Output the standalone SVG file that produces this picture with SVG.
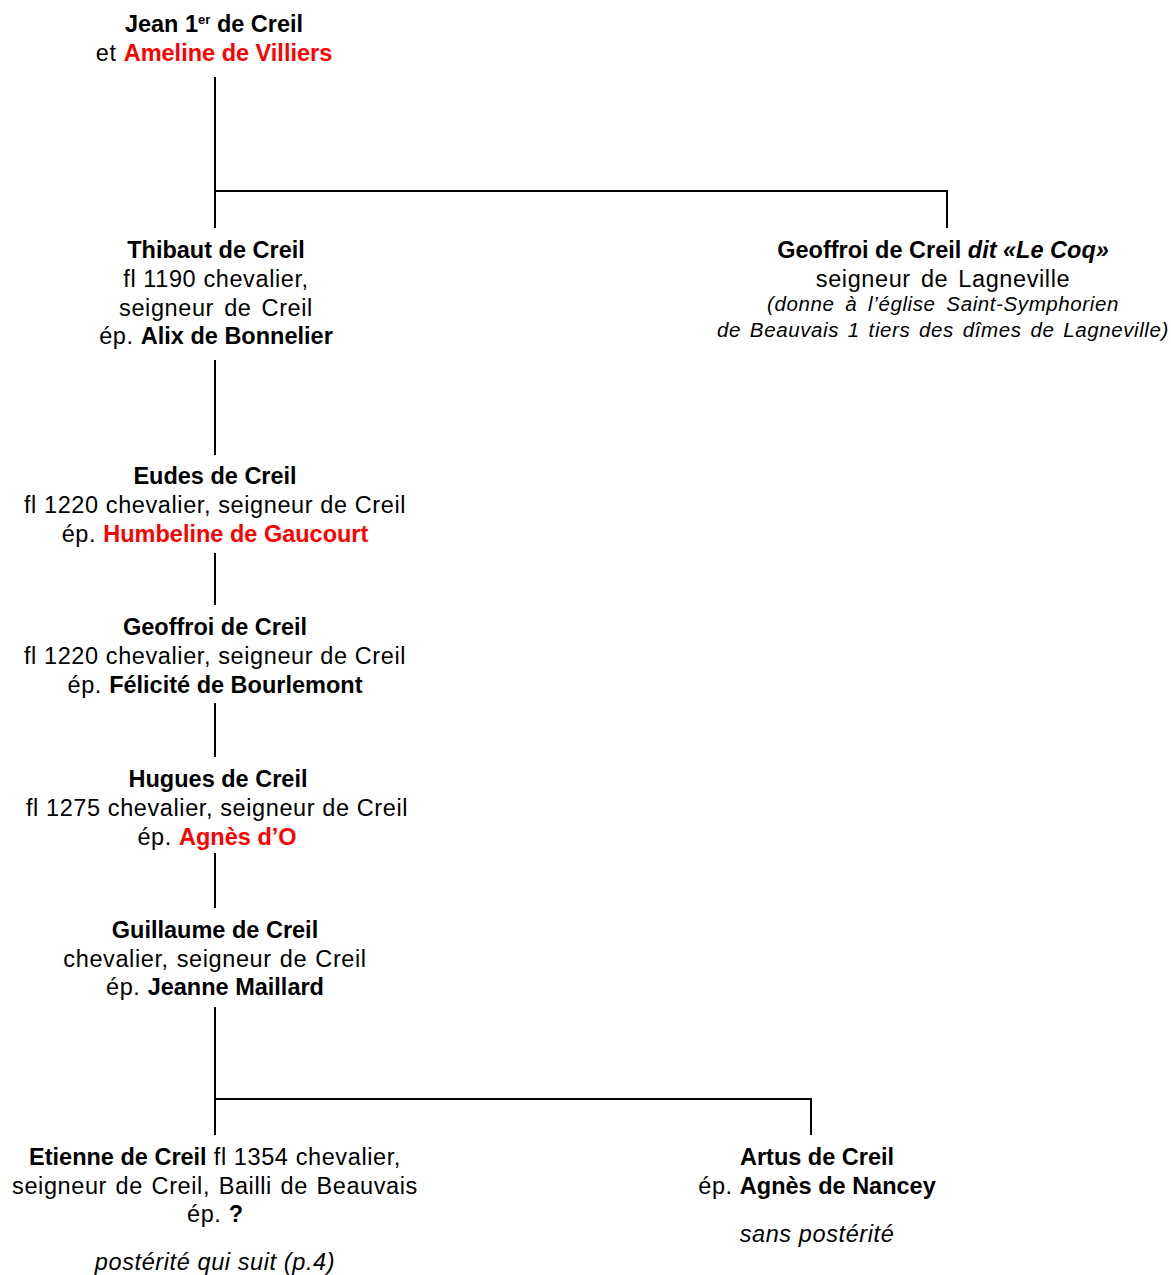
<svg xmlns="http://www.w3.org/2000/svg" width="1171" height="1275" viewBox="0 0 1171 1275">
<style>
text{font-family:"Liberation Sans",Arial,sans-serif;font-size:23.5px;letter-spacing:0.6px;fill:#000;text-anchor:middle}
.b{font-weight:bold;letter-spacing:0}
.r{fill:#ff0000;font-weight:bold;letter-spacing:0}
.i{font-style:italic}
.s{font-size:20.5px;font-style:italic}
.ln{stroke:#000;stroke-width:2;fill:none}
</style>
<rect width="1171" height="1275" fill="#fff"/>
<g id="connectors">
<path class="ln" d="M215 77V228M215 191H947V228"/>
<path class="ln" d="M215 360V455"/>
<path class="ln" d="M215 553V605"/>
<path class="ln" d="M215 703V757"/>
<path class="ln" d="M215 853V908"/>
<path class="ln" d="M215 1007V1135M215 1099H811V1135"/>
</g>
<g id="jean">
<text x="214" y="32" class="b">Jean 1<tspan font-size="13" dy="-8">er</tspan><tspan dy="8"> de Creil</tspan></text>
<text x="214" y="61">et <tspan class="r">Ameline de Villiers</tspan></text>
</g>
<g id="thibaut">
<text x="216" y="258" class="b">Thibaut de Creil</text>
<text x="216" y="287">fl 1190 chevalier,</text>
<text x="216" y="316" word-spacing="3">seigneur de Creil</text>
<text x="216" y="344">ép. <tspan class="b">Alix de Bonnelier</tspan></text>
</g>
<g id="geoffroi-coq">
<text x="943" y="258" class="b">Geoffroi de Creil <tspan class="i">dit «Le Coq»</tspan></text>
<text x="943" y="287" word-spacing="3">seigneur de Lagneville</text>
<text x="943" y="311" class="s" word-spacing="4.5">(donne à l’église Saint-Symphorien</text>
<text x="943" y="337" class="s" word-spacing="2.5">de Beauvais 1 tiers des dîmes de Lagneville)</text>
</g>
<g id="eudes">
<text x="215" y="484" class="b">Eudes de Creil</text>
<text x="215" y="513">fl 1220 chevalier, seigneur de Creil</text>
<text x="215" y="542">ép. <tspan class="r">Humbeline de Gaucourt</tspan></text>
</g>
<g id="geoffroi">
<text x="215" y="635" class="b">Geoffroi de Creil</text>
<text x="215" y="664">fl 1220 chevalier, seigneur de Creil</text>
<text x="215" y="693">ép. <tspan class="b">Félicité de Bourlemont</tspan></text>
</g>
<g id="hugues">
<text x="218" y="787" class="b">Hugues de Creil</text>
<text x="217" y="816">fl 1275 chevalier, seigneur de Creil</text>
<text x="217" y="845">ép. <tspan class="r">Agnès d’O</tspan></text>
</g>
<g id="guillaume">
<text x="215" y="938" class="b">Guillaume de Creil</text>
<text x="215" y="967" word-spacing="1">chevalier, seigneur de Creil</text>
<text x="215" y="995">ép. <tspan class="b">Jeanne Maillard</tspan></text>
</g>
<g id="etienne">
<text x="215" y="1165"><tspan class="b">Etienne de Creil</tspan> fl 1354 chevalier,</text>
<text x="215" y="1194" word-spacing="1.5">seigneur de Creil, Bailli de Beauvais</text>
<text x="215" y="1222">ép. <tspan class="b">?</tspan></text>
<text x="215" y="1270" class="i">postérité qui suit (p.4)</text>
</g>
<g id="artus">
<text x="817" y="1165" class="b">Artus de Creil</text>
<text x="817" y="1194">ép. <tspan class="b">Agnès de Nancey</tspan></text>
<text x="817" y="1242" class="i">sans postérité</text>
</g>
</svg>
